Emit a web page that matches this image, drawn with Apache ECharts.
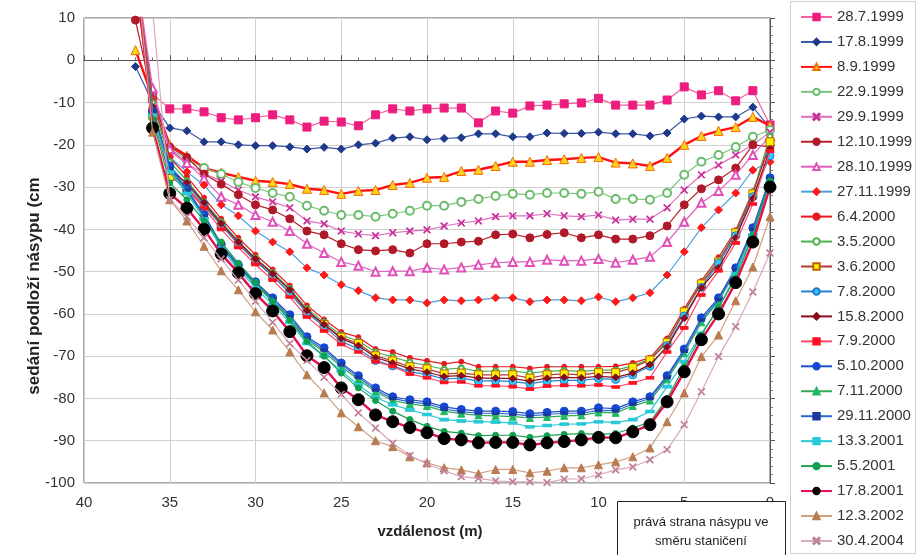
<!DOCTYPE html>
<html><head><meta charset="utf-8">
<script src="https://cdn.jsdelivr.net/npm/echarts@6/dist/echarts.min.js"></script>
<style>html,body{margin:0;padding:0;background:#fff}#c{width:917px;height:555px}</style>
</head><body><div id="c"></div>
<script>
// distance from the axis (m), one point per metre
const distances = [37,36,35,34,33,32,31,30,29,28,27,26,25,24,23,22,21,20,19,18,17,16,15,14,13,12,11,10,9,8,7,6,5,4,3,2,1,0];
const xTicks = [40,35,30,25,20,15,10,5,0];
const yTicks = [10,0,-10,-20,-30,-40,-50,-60,-70,-80,-90,-100];

const s_28_7_1999 = [20,-8,-11.5,-11.5,-12.2,-13.6,-14.1,-13.6,-12.9,-14.1,-15.8,-14.4,-14.6,-15.5,-12.9,-11.5,-12,-11.5,-11.3,-11.3,-14.8,-12,-12.5,-10.8,-10.6,-10.3,-10.1,-9,-10.6,-10.6,-10.6,-9.4,-6.3,-8.2,-7.2,-9.6,-7.2,-15.3];
const s_17_8_1999 = [-1.5,-10,-16,-16.7,-19.3,-19.3,-20,-20.2,-20.2,-20.5,-21,-20.6,-21,-20,-19.6,-18.4,-18.1,-18.8,-18.5,-18.3,-17.4,-17.4,-18.1,-18.1,-17.2,-17.3,-17.3,-17,-17.4,-17.4,-17.9,-17.2,-13.9,-13.2,-13.4,-13.4,-11.1,-16];
const s_8_9_1999 = [2.4,-8.7,-20,-22.6,-25.5,-26.6,-27.6,-28.5,-28.8,-29.3,-30.4,-30.7,-31.6,-30.9,-30.7,-29.5,-29,-27.8,-27.6,-26.2,-25.9,-25,-24,-24,-23.6,-23.4,-23.1,-22.9,-24.2,-24.4,-25,-23.1,-20,-17.9,-16.7,-15.8,-13.4,-15.5];
const s_22_9_1999 = [18,-9,-21,-23.5,-25.5,-26.9,-28.8,-30.2,-31.4,-32.3,-34.4,-35.6,-36.6,-36.6,-37,-36.3,-35.6,-34.4,-34.4,-33.5,-32.8,-32.1,-31.6,-31.8,-31.4,-31.4,-31.6,-31.1,-32.8,-32.8,-33,-31.4,-27.1,-24,-22.4,-20.5,-18.1,-16.5];
const s_29_9_1999 = [20,-8,-21.5,-24.5,-26.8,-28.6,-30.7,-32.3,-33.5,-34.9,-38,-38.7,-40.4,-41.1,-41.5,-40.8,-40.4,-40.1,-39.2,-38.5,-38,-37,-36.8,-36.8,-36.3,-36.8,-37,-36.6,-37.8,-37.6,-37.6,-34.9,-30.7,-27.1,-24.8,-22.4,-20,-17];
const s_12_10_1999 = [9.5,-9,-20.5,-23,-26.9,-29.3,-31.8,-34.2,-35.4,-37.5,-40.4,-41.3,-43.4,-44.8,-45.1,-44.8,-45.6,-43.4,-43.4,-43,-42.8,-41.3,-41.1,-42,-41.2,-40.8,-42,-41.3,-42.3,-42.3,-41.5,-39.2,-34.2,-30.4,-28.3,-25.5,-20,-20.5];
const s_28_10_1999 = [22,-6.6,-21,-24.3,-28,-32.3,-34.2,-36.6,-38.2,-40.4,-43.4,-45.6,-47.7,-48.6,-50,-49.9,-49.9,-49.1,-49.5,-49,-48.4,-47.9,-47.7,-47.7,-47.2,-47.4,-47.4,-47,-47.9,-47.2,-46.5,-43,-38.2,-33.7,-30.9,-27.1,-22.4,-18];
const s_27_11_1999 = [20,-9.5,-22.9,-26.4,-29.5,-34.2,-36.8,-40.4,-43,-45.3,-49.1,-50.8,-53.1,-54.5,-56.2,-56.7,-56.7,-57.4,-56.7,-56.9,-56.7,-56.2,-56.2,-57.1,-56.7,-56.7,-56.9,-56,-57.1,-56.2,-55,-50.8,-45.3,-39.6,-35.4,-31.4,-26,-24];
const s_6_4_2000 = [20,-9,-23,-27.5,-32.5,-37.5,-42,-46,-49.5,-53.3,-58,-61.3,-64.3,-65.5,-68.3,-69,-70.4,-71.1,-71.8,-71.3,-72.5,-72.5,-72.5,-72.9,-72.5,-72.5,-72.5,-72.5,-72.4,-71.6,-70.4,-65.8,-58.8,-52.2,-46.6,-40.2,-31,-20];
const s_3_5_2000 = [19,-10,-24,-28.5,-33.5,-38.2,-42.8,-46.8,-50.2,-54,-58.8,-62,-65,-66.4,-69,-70.2,-71.4,-72.2,-73.1,-72.8,-73.6,-73.5,-73.5,-74,-73.6,-73.4,-73.6,-73.3,-73.3,-72.3,-70.7,-66.4,-59.3,-52.6,-47.3,-40.6,-31.3,-18];
const s_3_6_2000 = [18,-13,-27.5,-30.2,-34.5,-39,-43.5,-47.5,-51,-55,-59.5,-62.5,-65.5,-67,-69.9,-71.1,-72.5,-73,-74.2,-74,-74.4,-74.4,-74.4,-75.2,-74.4,-74.2,-74.4,-73.9,-73.9,-72.7,-70.9,-66.8,-59.5,-52.9,-47.7,-40.8,-31.6,-19.3];
const s_7_8_2000 = [21,-12.5,-25,-29.5,-34,-39,-43.5,-47.5,-51,-55,-59.8,-63,-66.5,-68.3,-71,-72.3,-73.7,-74.3,-75.4,-75.2,-75.9,-75.8,-76,-76.5,-75.9,-75.7,-75.7,-75.3,-75.5,-74.4,-72.4,-67.5,-60.5,-53.7,-48,-41.5,-32.3,-22.6];
const s_15_8_2000 = [20,-11,-26,-29,-33.7,-38.6,-43,-47,-50.5,-54.3,-59.2,-62.5,-65.8,-67.5,-70.3,-71.6,-73,-73.8,-74.8,-74.6,-75.2,-75.2,-75.3,-75.9,-75.2,-75,-75.1,-74.8,-75,-74,-72,-67.8,-61,-53.8,-49.1,-42,-32.7,-21];
const s_7_9_2000 = [22,-11.5,-26.7,-30.5,-35,-40,-44.3,-48.3,-52,-56,-60.7,-64,-67.2,-69,-71.3,-72.4,-74.2,-75.1,-76.2,-76.1,-77,-77,-77.2,-77.8,-77.1,-76.9,-77,-76.8,-77.3,-76.3,-75.1,-69,-63.3,-55.5,-49.8,-43.2,-34,-21.5];
const s_5_10_2000 = [20,-12,-25,-30.5,-36.5,-43.5,-48.4,-52.4,-56.2,-60.2,-65.4,-68,-71.6,-74.6,-77.5,-79.6,-80.3,-80.8,-82,-82.6,-83,-83,-83.1,-83.6,-83.3,-83,-83,-82.2,-82.4,-80.8,-79.6,-74.6,-68.3,-60.9,-56.2,-49.1,-39.6,-27.8];
const s_7_11_2000 = [21,-12.5,-26,-31,-37,-44,-49,-53.2,-57,-61,-66.2,-69,-72.5,-75.5,-78.4,-80.5,-81.3,-81.8,-83,-83.6,-84,-84.1,-84.3,-84.6,-84.4,-84.1,-84,-83.3,-83.4,-81.8,-80.5,-75.5,-69.3,-62,-57,-50,-40.5,-28.5];
const s_29_11_2000 = [20,-12,-25.5,-30.8,-36.8,-43.8,-48.8,-52.8,-56.6,-60.6,-65.8,-68.5,-72,-75,-78,-80,-80.8,-81.3,-82.5,-83.1,-83.5,-83.5,-83.7,-84.1,-83.8,-83.5,-83.5,-82.8,-82.9,-81.3,-80,-75,-68.8,-61.4,-56.6,-49.5,-40,-28];
const s_13_3_2001 = [21,-13,-26.5,-31.5,-37.5,-44.5,-49.5,-53.8,-57.8,-62,-67,-70,-73.5,-76.8,-79.7,-81.5,-82.7,-83.8,-85,-85.3,-85.5,-85.6,-85.8,-86.7,-86.4,-86.1,-86,-85.5,-85.7,-85,-83.1,-77.2,-71.3,-64.6,-58.6,-50.6,-41.3,-29];
const s_5_5_2001 = [22,-14,-29,-33,-38,-43,-48,-52.5,-57,-61.5,-66.5,-70,-74,-77.5,-80.5,-83,-85,-86.6,-87.8,-88.2,-88.8,-88.7,-88.7,-89.2,-88.8,-88.5,-88.3,-88.5,-88.3,-87,-85.6,-80,-72.5,-65,-58.5,-51.5,-41.5,-28.5];
const s_17_8_2001 = [22,-16,-31.5,-35,-40,-45.8,-50.3,-55.2,-59.3,-64.2,-69.9,-72.7,-77.5,-80.3,-83.9,-85.5,-86.9,-88.1,-89.5,-89.8,-90.5,-90.4,-90.4,-91,-90.5,-90.2,-89.8,-89.2,-89.3,-87.9,-86.2,-80.8,-73.7,-66.1,-60,-52.6,-43,-30];
const s_12_3_2002 = [24,-17,-33,-38,-44,-49.8,-54.3,-59.5,-63.8,-69,-74.4,-78.7,-83.4,-86.7,-90,-91.4,-93.8,-95.2,-96.4,-96.9,-97.8,-96.8,-96.8,-97.6,-97.2,-96.4,-96.4,-95.7,-95,-93.8,-91.7,-85.5,-78.7,-70.1,-65,-56.9,-48.9,-37];
const s_30_4_2004 = [null,12,-33,-37,-42,-47,-52,-57,-62,-67,-71,-75,-79,-83.4,-87,-90.6,-93.5,-95.5,-97.1,-98.5,-98.9,-99.5,-99.7,-99.7,-99.9,-99.1,-99,-98.1,-96.9,-96.2,-94.5,-92.1,-86.2,-78.4,-70.1,-63,-54.8,-45.6];

const seriesNames = ['28.7.1999','17.8.1999','8.9.1999','22.9.1999','29.9.1999','12.10.1999','28.10.1999','27.11.1999','6.4.2000','3.5.2000','3.6.2000','7.8.2000','15.8.2000','7.9.2000','5.10.2000','7.11.2000','29.11.2000','13.3.2001','5.5.2001','17.8.2001','12.3.2002','30.4.2004'];
const seriesValues = [s_28_7_1999,s_17_8_1999,s_8_9_1999,s_22_9_1999,s_29_9_1999,s_12_10_1999,s_28_10_1999,s_27_11_1999,s_6_4_2000,s_3_5_2000,s_3_6_2000,s_7_8_2000,s_15_8_2000,s_7_9_2000,s_5_10_2000,s_7_11_2000,s_29_11_2000,s_13_3_2001,s_5_5_2001,s_17_8_2001,s_12_3_2002,s_30_4_2004];

const XSYM = 'path://M0,1L1,0L5,4L9,0L10,1L6,5L10,9L9,10L5,6L1,10L0,9L4,5Z';
// style per series: [line colour, line width, symbol, symbol size, fill, border]
const styles = [
  ['#f2609f',1.2,'rect',8,'#ec1d7f','#ec1d7f'],
  ['#3c5aa6',1.2,'diamond',8,'#1f3a8a','#1f3a8a'],
  ['#ff1010',2.4,'triangle',9,'#ffd21f','#f07000'],
  ['#7cc47c',1.2,'emptyCircle',8,'#6bbb6b','#6bbb6b'],
  ['#e070c0',1.2,XSYM,7,'#c8309a','#c8309a'],
  ['#b8202c',1.2,'circle',8,'#b01a28','#b01a28'],
  ['#e060c0',1.2,'emptyTriangle',8,'#e050b8','#e050b8'],
  ['#4aa0dc',1.2,'diamond',8,'#ff1a1a','#ff1a1a'],
  ['#e81820',1.2,'circle',5,'#e81820','#e81820'],
  ['#4caf50',1.2,'emptyCircle',5,'#4caf50','#4caf50'],
  ['#b03a30',1.2,'rect',8,'#fff200','#c06000'],
  ['#2a80d0',1.2,'circle',8,'#33c8f5','#1f78d0'],
  ['#8a0c1c',1.2,'diamond',7,'#8a0c1c','#8a0c1c'],
  ['#ff4a6a',1.2,'rect',[7,3],'#ff1020','#ff1020'],
  ['#1e50c8',1.2,'circle',8,'#1448d4','#1448d4'],
  ['#33aa55',1.2,'triangle',7,'#20b860','#20b860'],
  ['#2a6ad0',1.2,'rect',[6,3],'#1a3aa0','#1a3aa0'],
  ['#28c8d8',1.2,'rect',[8,3],'#28c8d8','#28c8d8'],
  ['#20a050',1.2,'circle',6,'#10a050','#10a050'],
  ['#e3104c',2.4,'circle',12,'#000000','#000000'],
  ['#d0a080',1.2,'triangle',8,'#b87c50','#b87c50'],
  ['#d8a8bc',1.2,XSYM,7,'#c08098','#c08098']
];

const series = seriesNames.map((name, i) => {
  const st = styles[i];
  return {
    name: name,
    type: 'line',
    data: distances.map((d, j) => [d, seriesValues[i][j]]),
    symbol: st[2],
    symbolSize: st[3],
    showSymbol: true,
    connectNulls: false,
    clip: true,
    lineStyle: { color: st[0], width: st[1] },
    itemStyle: { color: st[4], borderColor: st[5], borderWidth: 1 },
    emphasis: { disabled: true },
    animation: false,
    z: 2 + i
  };
});

const FONT = '"Liberation Sans", Arial, sans-serif';
const chart = echarts.init(document.getElementById('c'), null, { renderer: 'canvas' });
chart.setOption({
  backgroundColor: '#ffffff',
  animation: false,
  grid: { left: 84, right: 147, top: 18, bottom: 72, show: true, borderColor: '#555', borderWidth: 1, backgroundColor: 'transparent' },
  xAxis: {
    type: 'value', inverse: true, min: 0, max: 40, interval: 5,
    axisLine: { show: true, lineStyle: { color: '#555' } },
    axisTick: { show: true, inside: true, length: 5, lineStyle: { color: '#555' } },
    minorTick: { show: true, splitNumber: 5, length: 3, lineStyle: { color: '#777' } },
    splitLine: { show: true, lineStyle: { color: '#d0d0d0', width: 1 } },
    axisLabel: { fontFamily: FONT, fontSize: 15, color: '#333', margin: 12,
      formatter: v => xTicks.includes(v) ? String(v) : '' }
  },
  yAxis: {
    type: 'value', min: -100, max: 10, interval: 10,
    axisLine: { show: true, lineStyle: { color: '#555' } },
    axisTick: { show: true, inside: true, length: 5, lineStyle: { color: '#555' } },
    minorTick: { show: true, splitNumber: 5, length: 3, lineStyle: { color: '#777' } },
    splitLine: { show: true, lineStyle: { color: '#d0d0d0', width: 1 } },
    axisLabel: { fontFamily: FONT, fontSize: 15, color: '#333', margin: 9,
      formatter: v => yTicks.includes(v) ? String(v) : '' }
  },
  legend: {
    orient: 'vertical', left: 795, top: 4,
    itemWidth: 31, itemHeight: 8, itemGap: 8.95,
    textStyle: { fontFamily: FONT, fontSize: 15, color: '#333', lineHeight: 16 },
    data: seriesNames
  },
  graphic: [
    { type: 'rect', shape: { x: 790.5, y: 1.5, width: 125, height: 552 }, style: { fill: 'none', stroke: '#cfcfcf', lineWidth: 1 }, z: 0, silent: true },
    { type: 'text', x: 430, y: 532, style: { text: 'vzdálenost (m)', font: 'bold 15px ' + FONT, fill: '#222', textAlign: 'center', textVerticalAlign: 'middle' }, z: 10 },
    { type: 'text', x: 34, y: 286, rotation: Math.PI / 2, style: { text: 'sedání podloží násypu (cm', font: 'bold 17px ' + FONT, fill: '#222', textAlign: 'center', textVerticalAlign: 'middle' }, z: 10 },
    { type: 'rect', shape: { x: 617.5, y: 501.5, width: 168, height: 60 }, style: { fill: '#ffffff', stroke: '#222', lineWidth: 1 }, z: 50 },
    { type: 'text', x: 701, y: 522, style: { text: 'prává strana násypu ve', font: '13px ' + FONT, fill: '#222', textAlign: 'center', textVerticalAlign: 'middle' }, z: 51 },
    { type: 'text', x: 701, y: 541, style: { text: 'směru staničení', font: '13px ' + FONT, fill: '#222', textAlign: 'center', textVerticalAlign: 'middle' }, z: 51 }
  ],
  series: series
});
</script>
</body></html>
